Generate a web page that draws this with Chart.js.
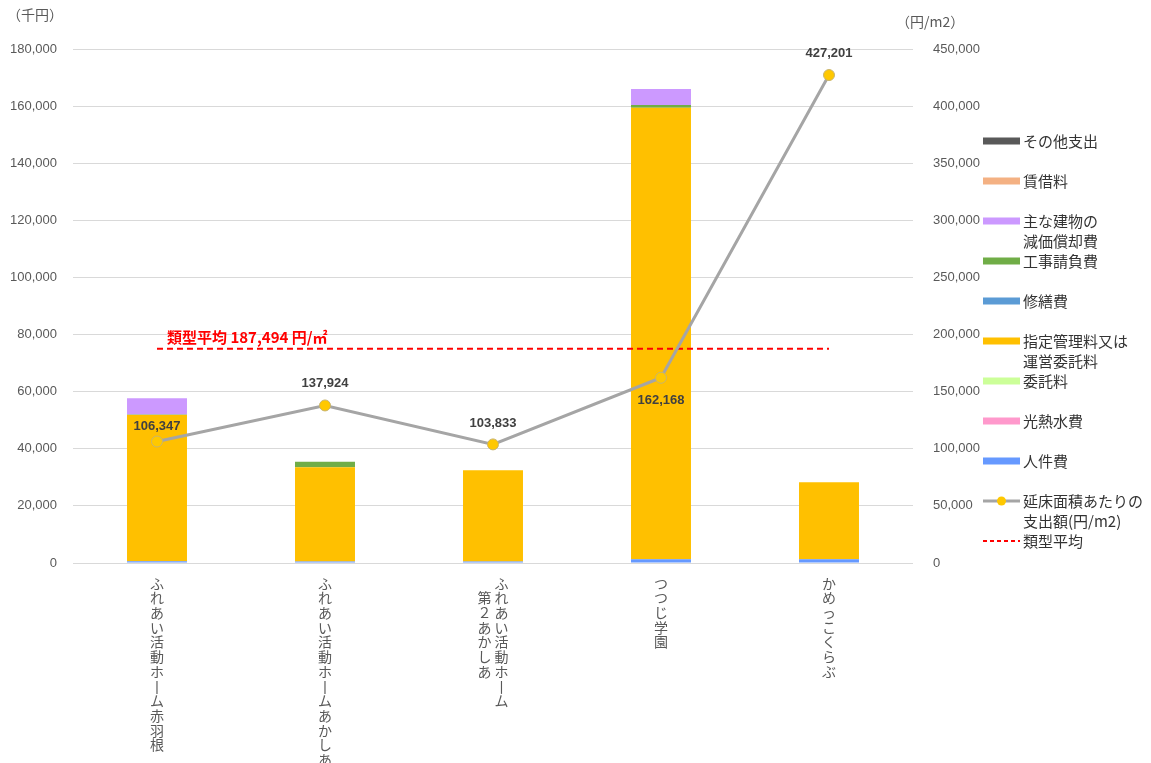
<!DOCTYPE html>
<html><head><meta charset="utf-8">
<script src="https://cdn.jsdelivr.net/npm/chart.js@4/dist/chart.umd.min.js"></script>
<style>html,body{margin:0;padding:0;background:#fff;}canvas{display:block;}</style>
</head><body>
<canvas id="c" width="1151" height="763"></canvas>
<script>
// ---- data ----
const categories = ['ふれあい活動ホーム赤羽根', 'ふれあい活動ホームあかしあ', 'ふれあい活動ホーム\n第2あかしあ', 'つつじ学園', 'かめっこくらぶ'];
const jinkenhi    = [600, 500, 500, 1300, 1300];        // 人件費
const kounetsu    = [0, 0, 0, 0, 0];                    // 光熱水費
const itakuryo    = [0, 0, 0, 0, 0];                    // 委託料
const shiteiKanri = [51300, 33000, 32000, 158100, 27000]; // 指定管理料又は運営委託料
const shuzen      = [200, 0, 0, 0, 0];                  // 修繕費
const kouji       = [0, 2000, 0, 1000, 0];              // 工事請負費
const genka       = [5600, 0, 0, 5600, 0];              // 主な建物の減価償却費
const chinshaku   = [0, 0, 0, 0, 0];                    // 賃借料
const sonota      = [0, 0, 0, 0, 0];                    // その他支出
const perArea     = [106347, 137924, 103833, 162168, 427201]; // 延床面積あたりの支出額(円/m2)
const typeAvg     = [187494, 187494, 187494, 187494, 187494]; // 類型平均
const leftTitle = '（千円）';
const rightTitle = '（円/m2）';

const FONT_JP = "'Noto Sans CJK JP', 'Liberation Sans', sans-serif";
const FONT_NUM = "'Liberation Sans', Arial, 'Noto Sans CJK JP', sans-serif";

function bar(label, data, color) {
  return { type: 'bar', label, data, backgroundColor: color, stack: 's', yAxisID: 'y', order: 2,
           categoryPercentage: 1, barPercentage: 0.357 };
}

const datasets = [
  bar('人件費', jinkenhi, '#6699FF'),
  bar('光熱水費', kounetsu, '#FF99CC'),
  bar('委託料', itakuryo, '#CCFF99'),
  bar('指定管理料又は\n運営委託料', shiteiKanri, '#FFC000'),
  bar('修繕費', shuzen, '#5B9BD5'),
  bar('工事請負費', kouji, '#70AD47'),
  bar('主な建物の\n減価償却費', genka, '#CC99FF'),
  bar('賃借料', chinshaku, '#F4B183'),
  bar('その他支出', sonota, '#595959'),
  { type: 'line', label: '延床面積あたりの\n支出額(円/m2)', data: perArea, yAxisID: 'y1', order: 0,
    borderColor: '#A5A5A5', borderWidth: 3, tension: 0,
    pointRadius: 5.5, pointBackgroundColor: '#FFC800', pointBorderColor: '#C8B46E', pointBorderWidth: 1 },
  { type: 'line', label: '類型平均', data: typeAvg, yAxisID: 'y1', order: 1,
    borderColor: '#FF0000', borderWidth: 2, borderDash: [6, 4], pointRadius: 0, tension: 0 }
];

function verticalLines(label) {
  const fix = ch => ch === 'ー' ? '丨' : ch;
  const parts = label.split('\n');
  if (parts.length === 1) return Array.from(parts[0]).map(fix);
  const c1 = Array.from(parts[0]).map(fix);
  const c2 = Array.from(parts[1]).map(ch => ch === '2' ? '２' : fix(ch));
  const n = Math.max(c1.length, c2.length + 1);
  const out = [];
  for (let i = 0; i < n; i++) {
    const a = c1[i] || '　';
    const b = (i >= 1 && c2[i - 1]) ? c2[i - 1] : '　';
    out.push(b + ' ' + a);
  }
  return out;
}

const overlay = {
  id: 'overlay',
  afterDatasetsDraw(chart) {
    const ctx = chart.ctx;
    ctx.save();
    // data labels for per-area line
    const meta = chart.getDatasetMeta(9);
    ctx.font = "bold 13px " + FONT_NUM;
    ctx.fillStyle = '#404040';
    ctx.textAlign = 'center';
    ctx.textBaseline = 'middle';
    const offs = [-15, -22, -21, 23, -22];
    meta.data.forEach((pt, i) => {
      ctx.fillText(perArea[i].toLocaleString('en-US'), pt.x, pt.y + offs[i]);
    });
    // average label
    const y1 = chart.scales.y1;
    const x0 = chart.getDatasetMeta(10).data[0].x;
    const ya = y1.getPixelForValue(typeAvg[0]);
    ctx.font = "bold 15px " + FONT_JP;
    ctx.fillStyle = '#FF0000';
    ctx.textAlign = 'left';
    ctx.fillText('類型平均 ' + typeAvg[0].toLocaleString('en-US') + ' 円/㎡', x0 + 10, ya - 12);
    ctx.restore();
  },
  afterDraw(chart) {
    const ctx = chart.ctx;
    ctx.save();
    // axis titles
    ctx.font = "14px " + FONT_JP;
    ctx.fillStyle = '#595959';
    ctx.textBaseline = 'middle';
    ctx.textAlign = 'left';
    ctx.fillText(leftTitle, 7, 15);
    ctx.fillText(rightTitle, 896, 22);
    // legend
    const ds = chart.data.datasets;
    const items = ds.slice(0, 9).reverse().concat(ds.slice(9));
    ctx.font = "15px " + FONT_JP;
    items.forEach((d, i) => {
      const y = 141 + 40 * i;
      const sx = 983, sw = 37;
      if (d.type === 'line') {
        ctx.beginPath();
        ctx.strokeStyle = d.borderColor;
        ctx.lineWidth = d.borderWidth;
        ctx.setLineDash(d.borderDash ? [4, 3] : []);
        ctx.moveTo(sx, y); ctx.lineTo(sx + sw, y);
        ctx.stroke();
        ctx.setLineDash([]);
        if (d.pointRadius) {
          ctx.beginPath();
          ctx.fillStyle = d.pointBackgroundColor;
          ctx.arc(sx + sw / 2, y, 4.5, 0, Math.PI * 2);
          ctx.fill();
        }
      } else {
        ctx.fillStyle = d.backgroundColor;
        ctx.fillRect(sx, y - 3.5, sw, 7);
      }
      ctx.fillStyle = '#333333';
      d.label.split('\n').forEach((t, k) => ctx.fillText(t, 1023, y + 20 * k));
    });
    ctx.restore();
  }
};

new Chart(document.getElementById('c'), {
  type: 'bar',
  data: { labels: categories, datasets },
  options: {
    responsive: false,
    animation: false,
    devicePixelRatio: 1,
    layout: { padding: { top: 49, right: 168, left: 0, bottom: 0 } },
    plugins: { legend: { display: false }, tooltip: { enabled: false } },
    scales: {
      x: {
        stacked: true,
        grid: { display: false },
        border: { display: false },
        ticks: {
          autoSkip: false, maxRotation: 0, minRotation: 0, padding: 5,
          color: '#595959', font: { family: FONT_JP, size: 14, lineHeight: 1.05 },
          callback: function (v) { return verticalLines(this.getLabelForValue(v)); }
        },
        afterFit: s => { s.height = 200; }
      },
      y: {
        stacked: true, min: 0, max: 180000,
        grid: { color: '#D9D9D9', drawTicks: false },
        border: { display: false },
        ticks: { stepSize: 20000, padding: 16, color: '#595959', font: { family: FONT_NUM, size: 13 },
                 callback: v => v.toLocaleString('en-US') },
        afterFit: s => { s.width = 73; }
      },
      y1: {
        position: 'right', min: 0, max: 450000,
        grid: { display: false },
        border: { display: false },
        ticks: { stepSize: 50000, padding: 12, color: '#595959', font: { family: FONT_NUM, size: 13 },
                 callback: v => v.toLocaleString('en-US') },
        afterFit: s => { s.width = 70; }
      }
    }
  },
  plugins: [overlay]
});
</script>
</body></html>
